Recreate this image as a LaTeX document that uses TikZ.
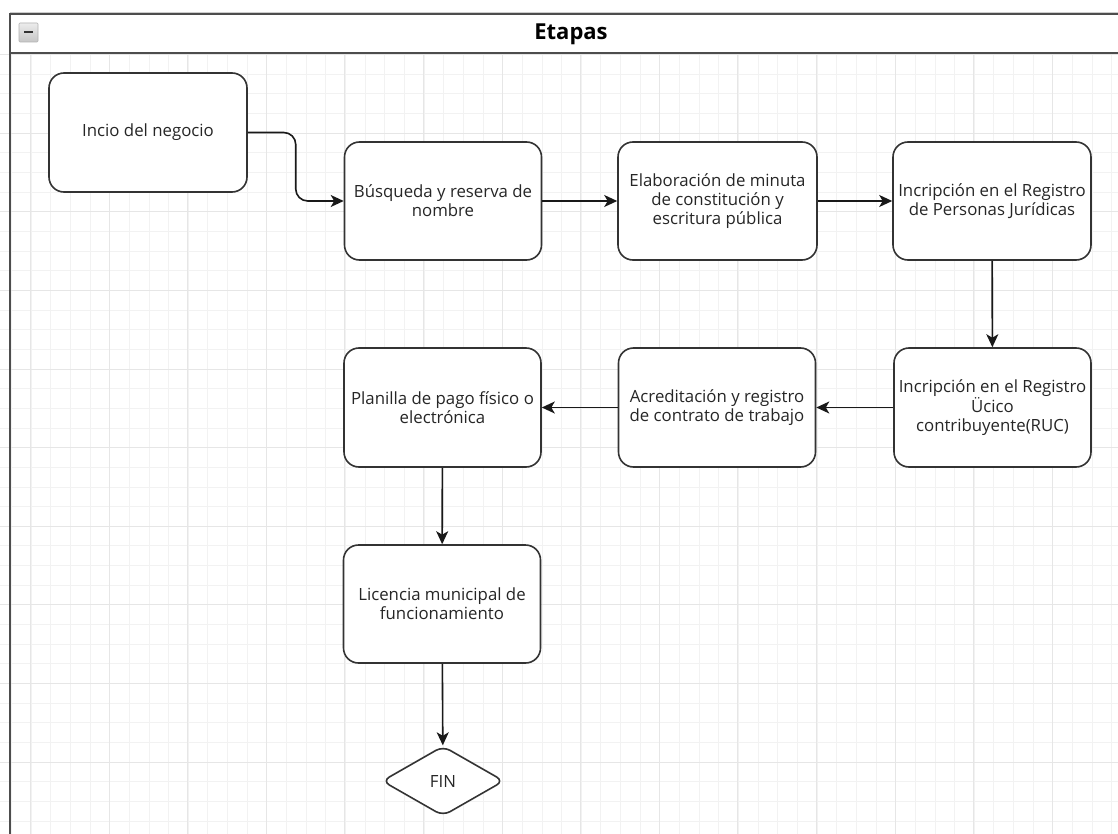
\documentclass[tikz,border=0pt]{standalone}
\usepackage{fontspec}
\setmainfont{Open Sans}
\usetikzlibrary{shapes.geometric,arrows.meta,calc}
\definecolor{minorgrid}{HTML}{F2F2F2}
\definecolor{majorgrid}{HTML}{E6E6E6}
\definecolor{poolline}{HTML}{4D4D4D}
\definecolor{shapeline}{HTML}{333333}
\tikzset{
  stepbox/.style={draw=shapeline, line width=1.6pt, rounded corners=15pt, fill=white,
    minimum width=197pt, minimum height=118pt, align=center, inner sep=1pt,
    font=\fontsize{16.8}{19}\selectfont, text=black!85},
  endshape/.style={draw=shapeline, line width=1.6pt, diamond, aspect=1.74, rounded corners=8pt,
    minimum width=122pt, minimum height=70pt, inner sep=0pt, fill=white,
    font=\fontsize{16.8}{19}\selectfont, text=black!85},
  arr/.style={draw=black!90, line width=1.6pt, -{Stealth[length=13pt,width=12pt,inset=3.5pt]}},
}
\begin{document}
\begin{tikzpicture}[x=1pt,y=-1pt]
\useasboundingbox (0,0) rectangle (1118,834);
\fill[white] (0,0) rectangle (1118,834);
% grid
\foreach \k in {-1,...,55} {\draw[minorgrid, line width=0.8pt] ({31+19.65*\k},53) -- ({31+19.65*\k},834);}
\foreach \k in {-3,...,36} {\draw[minorgrid, line width=0.8pt] (0,{762-19.65*\k}) -- (1118,{762-19.65*\k});}
\foreach \k in {-1,...,13} {\draw[majorgrid, line width=0.8pt] ({109+78.6*\k},53) -- ({109+78.6*\k},834);}
\foreach \k in {-1,...,9} {\draw[majorgrid, line width=0.8pt] (0,{762-78.6*\k}) -- (1118,{762-78.6*\k});}
% pool
\fill[white] (10,14) rectangle (1118,53);
\draw[gray!40, line width=1pt] (10,12.3) -- (1118,12.3);
\draw[poolline, line width=2pt] (10,14) -- (1118,14);
\draw[poolline, line width=2pt] (10,53.5) -- (1118,53.5);
\draw[poolline, line width=2pt] (10,13) -- (10,834);
\node[font=\bfseries\fontsize{22}{24}\selectfont] (title) at (571,34) {Etapas};
% collapse icon
\shade[top color=gray!15, bottom color=gray!45, draw=gray!60, line width=0.6pt, rounded corners=1pt] (19,23) rectangle (38,42);
\draw[black!80, line width=2pt] (24,32.5) -- (33,32.5);
% nodes
\node[stepbox, minimum width=198pt, minimum height=119pt] (inicio) at (148,132.5) {Incio del negocio};
\node[stepbox] (busq) at (443,201) {Búsqueda y reserva de\\nombre};
\node[stepbox, minimum width=199pt] (elab) at (717.5,201) {Elaboración de minuta\\de constitución y\\escritura pública};
\node[stepbox, minimum width=198pt] (pers) at (992,201) {Incripción en el Registro\\de Personas Jurídicas};
\node[stepbox, minimum height=119pt] (ruc) at (992.5,407.5) {Incripción en el Registro\\Ücico\\contribuyente(RUC)};
\node[stepbox, minimum height=119pt] (acred) at (717,407.5) {Acreditación y registro\\de contrato de trabajo};
\node[stepbox, minimum height=119pt] (plan) at (442.5,407.5) {Planilla de pago físico o\\electrónica};
\node[stepbox] (lic) at (442,604) {Licencia municipal de\\funcionamiento};
\node[endshape] (fin) at (443,781) {FIN};
% connectors
\draw[arr, rounded corners=12pt] (inicio.east) -| ($(inicio.east)!0.5!(busq.west)$) |- (busq.west);
\draw[arr] (busq) -- (elab);
\draw[arr] (elab) -- (pers);
\draw[arr] (pers) -- (ruc);
\draw[arr] (ruc) -- (acred);
\draw[arr] (acred) -- (plan);
\draw[arr] (plan) -- (lic);
\draw[arr] (lic) -- (fin);
\end{tikzpicture}
\end{document}
